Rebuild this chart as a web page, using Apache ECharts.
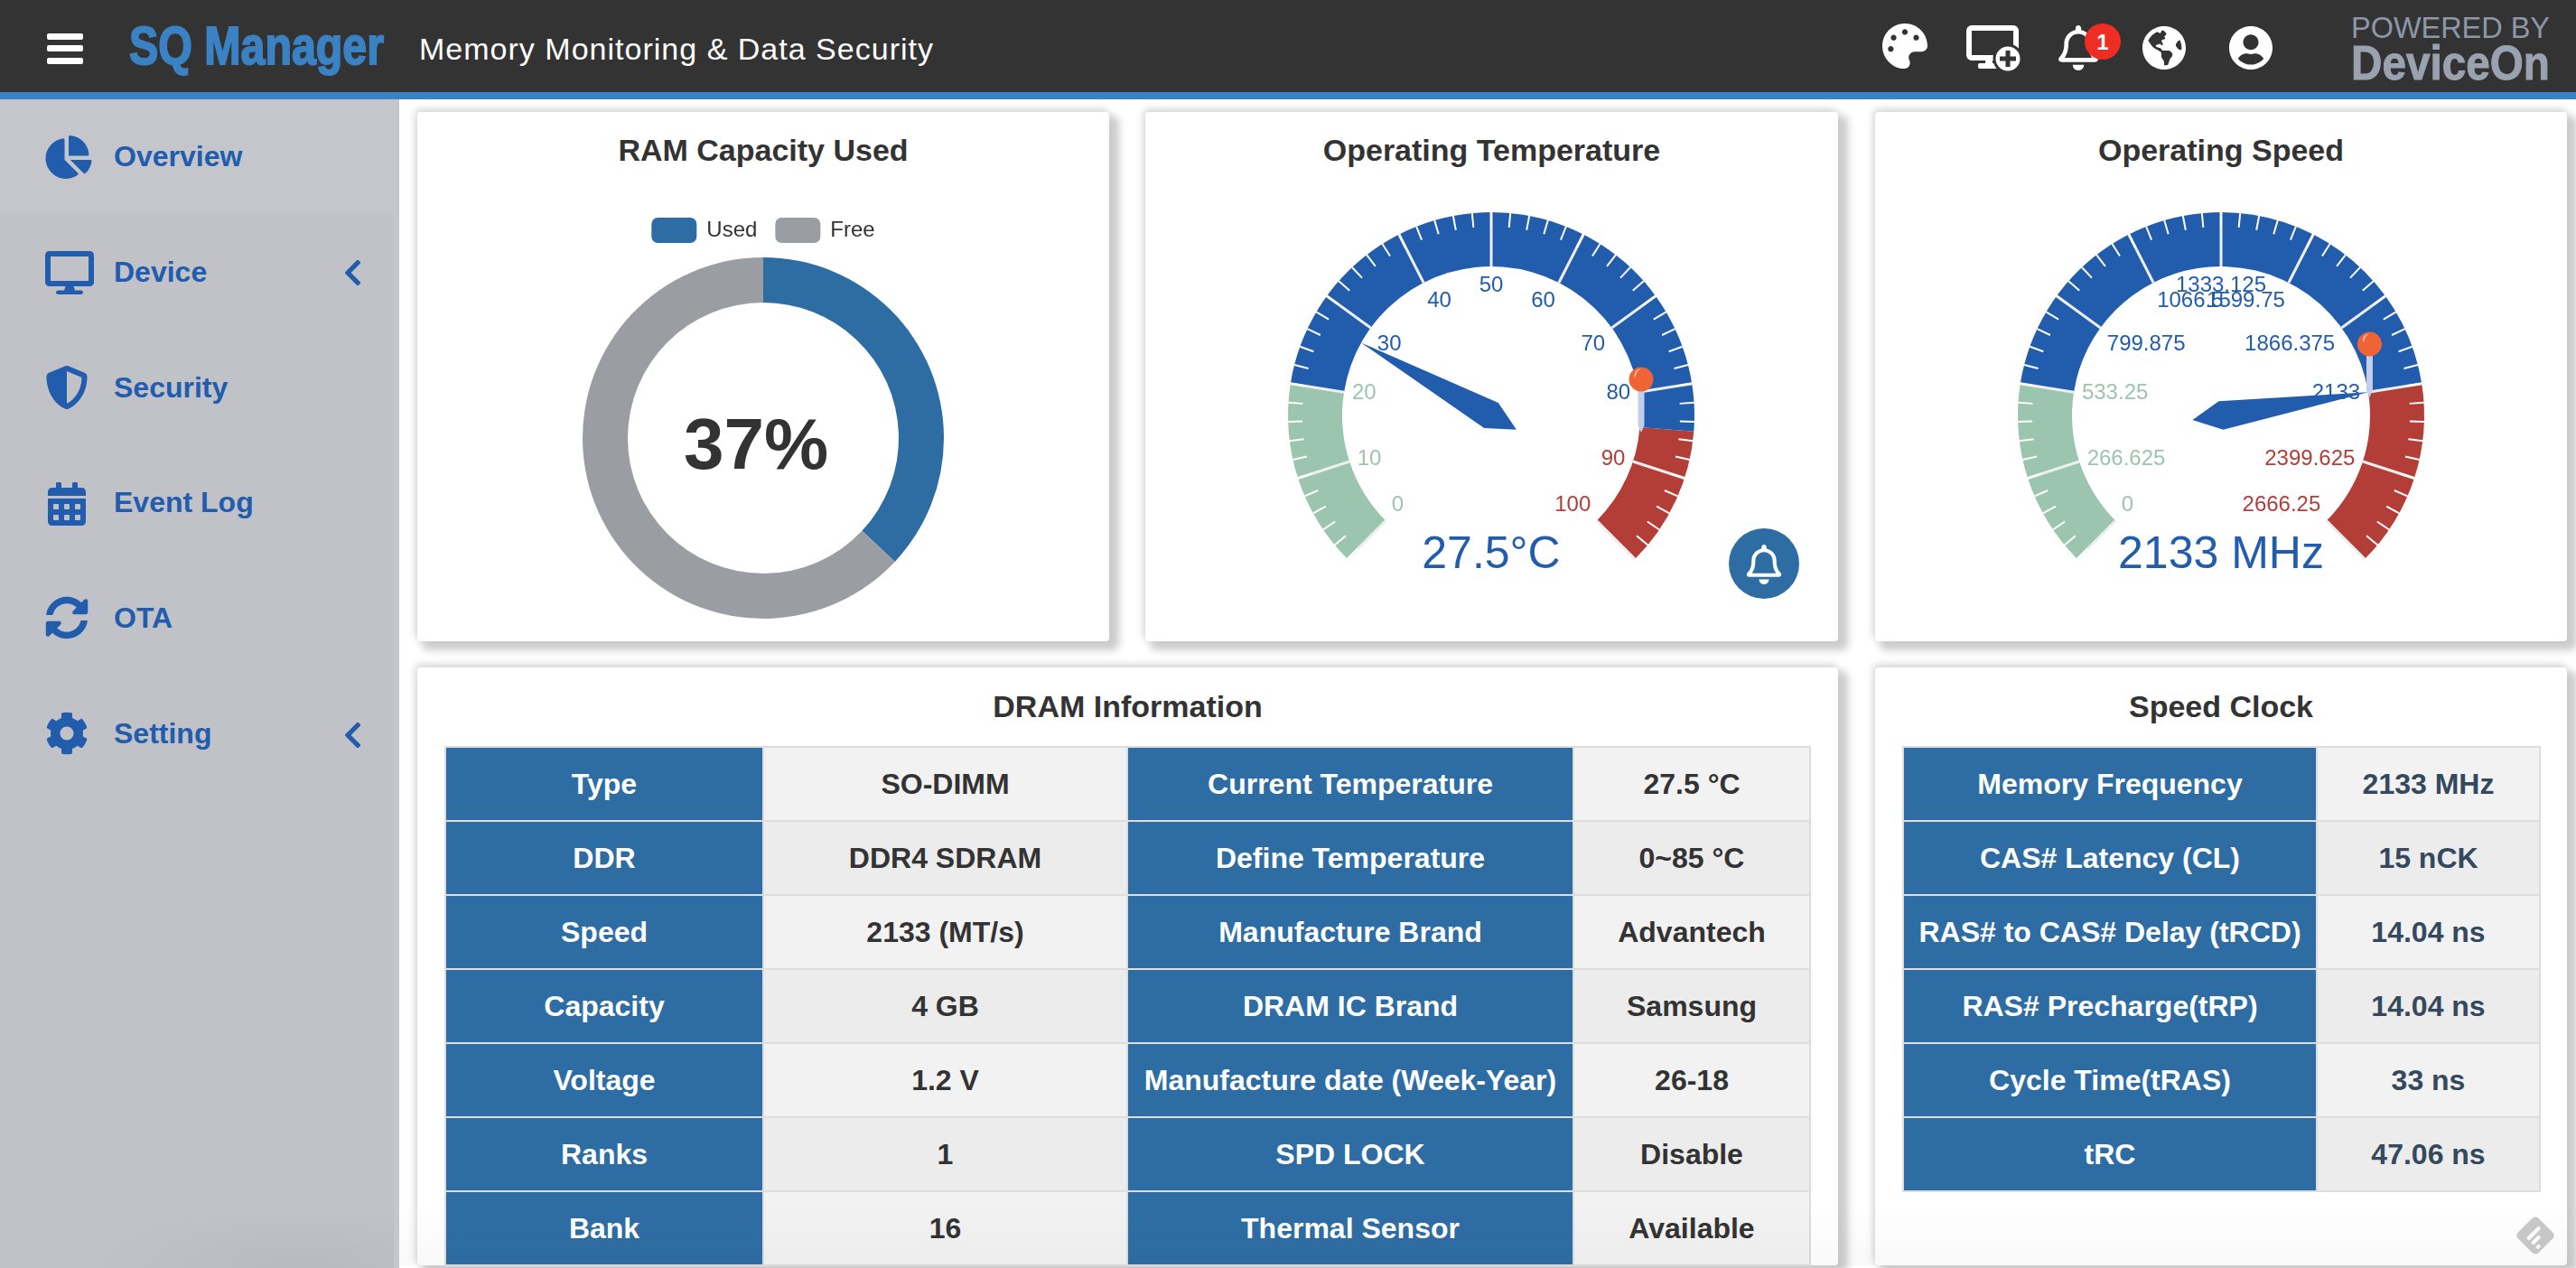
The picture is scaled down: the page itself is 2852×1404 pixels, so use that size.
<!DOCTYPE html>
<html>
<head>
<meta charset="utf-8">
<title>SQ Manager</title>
<script src="https://cdn.jsdelivr.net/npm/echarts@6/dist/echarts.min.js"></script>
<style>
  html, body { margin: 0; padding: 0; width: 2852px; height: 1404px; overflow: hidden; background: #fff; font-family: "Liberation Sans", Arial, sans-serif; }
  .abs { position: absolute; }
  #header { left: 0; top: 0; width: 2852px; height: 102px; background: #333; }
  #strip { left: 0; top: 102px; width: 2852px; height: 8px; background: #3a82c4; }
  #side { left: 0; top: 110px; width: 442px; height: 1294px; background: #c5c6cc; }
  #sideRest { left: 0; top: 238px; width: 436px; height: 1166px; background: #c1c2c8; }
  #sideShade { left: 0; top: 1320px; width: 436px; height: 84px; background: radial-gradient(ellipse 240px 70px at 330px 84px, rgba(0,0,0,.045), rgba(0,0,0,0)); }
  .navText { left: 126px; font-size: 32px; font-weight: bold; color: #225cad; line-height: 40px; }
  .icon { fill: #225cad; }
  .card { background: #fff; border-radius: 4px; box-shadow: 8px 7px 8px 3px #ccc, -2px -3px 8px #d4d4d4; }
  .cardTitle { left: 0; width: 100%; text-align: center; font-size: 34px; font-weight: bold; color: #333; line-height: 40px; }
  table { position: absolute; border-collapse: collapse; table-layout: fixed; }
  td { border: 2px solid #ddd; height: 80px; padding: 0; text-align: center; font-size: 32px; font-weight: bold; color: #333; background: #f2f2f2; white-space: nowrap; }
  tr:nth-child(even) td { background: #ececec; }
  td.key, tr:nth-child(even) td.key { background: #2e6da4; color: #fff; }
  #clockTable td { color: #34495e; }
  #clockTable td.key { color: #fff; }
  #fade { left: 442px; top: 1330px; width: 2410px; height: 71px; background: linear-gradient(rgba(0,0,0,0), rgba(0,0,0,.025)); pointer-events: none; }
</style>
</head>
<body>
<div class="abs" id="header"></div>
<div class="abs" id="strip"></div>
<div class="abs" id="side"></div>
<div class="abs" id="sideRest"></div>
<div class="abs" id="sideShade"></div>

<svg class="abs" style="left:0;top:0" width="2852" height="102">
  <g fill="#fff">
    <rect x="52" y="37" width="40" height="7" rx="2"/>
    <rect x="52" y="50" width="40" height="7" rx="2"/>
    <rect x="52" y="64" width="40" height="7" rx="2"/>
  </g>
  <text x="143" y="71" font-family="Liberation Sans" font-size="60" font-weight="bold" fill="#3a82c4" stroke="#3a82c4" stroke-width="2" textLength="282" lengthAdjust="spacingAndGlyphs">SQ Manager</text>
  <text x="464" y="66" font-family="Liberation Sans" font-size="34" fill="#fff" textLength="569" lengthAdjust="spacing">Memory Monitoring &amp; Data Security</text>
  <text x="2603" y="42" font-family="Liberation Sans" font-size="33" fill="#8d97a8" textLength="220" lengthAdjust="spacingAndGlyphs">POWERED BY</text>
  <text x="2603" y="88" font-family="Liberation Sans" font-size="53" font-weight="bold" fill="#9aa2b0" stroke="#9aa2b0" stroke-width="1" textLength="220" lengthAdjust="spacingAndGlyphs">DeviceOn</text>

  <g fill="#fff">
    <svg x="2084" y="26" width="50" height="50" viewBox="0 0 512 512"><path d="M204.3 5C104.9 24.4 24.8 104.3 5.2 203.4c-37 187 131.7 326.4 258.8 306.7 41.2-6.4 61.4-54.6 42.5-91.7-23.1-45.4 9.9-98.4 60.9-98.4h79.7c35.8 0 64.8-29.6 64.9-65.3C511.5 97.1 368.1-26.9 204.3 5zM96 320c-17.7 0-32-14.3-32-32s14.3-32 32-32 32 14.3 32 32-14.3 32-32 32zm32-128c-17.7 0-32-14.3-32-32s14.3-32 32-32 32 14.3 32 32-14.3 32-32 32zm128-64c-17.7 0-32-14.3-32-32s14.3-32 32-32 32 14.3 32 32-14.3 32-32 32zm128 64c-17.7 0-32-14.3-32-32s14.3-32 32-32 32 14.3 32 32-14.3 32-32 32z"/></svg>
    <rect x="2180" y="31" width="52" height="33" rx="3" fill="none" stroke="#fff" stroke-width="6"/>
    <rect x="2190" y="70" width="24" height="6" rx="2"/>
    <rect x="2198" y="62" width="8" height="10"/>
    <circle cx="2223" cy="65" r="15" stroke="#333" stroke-width="3"/>
    <rect x="2214" y="62.500" width="18" height="5" fill="#333"/>
    <rect x="2220.500" y="56" width="5" height="18" fill="#333"/>
    <svg x="2279" y="28" width="44" height="50" viewBox="0 0 448 512"><path d="M439.39 362.29c-19.32-20.76-55.47-51.99-55.47-154.29 0-77.7-54.48-139.9-127.94-155.16V32c0-17.67-14.32-32-31.98-32s-31.98 14.33-31.98 32v20.84C118.56 68.1 64.08 130.3 64.08 208c0 102.3-36.15 133.53-55.47 154.29-6 6.45-8.66 14.16-8.61 21.71.11 16.4 12.98 32 32.1 32h383.8c19.12 0 32-15.6 32.1-32 .05-7.55-2.61-15.27-8.61-21.71zM67.53 368c21.22-27.97 44.42-74.33 44.53-159.42 0-.2-.06-.38-.06-.58 0-61.86 50.14-112 112-112s112 50.14 112 112c0 .2-.06.38-.06.58.11 85.1 23.31 131.46 44.53 159.42H67.53zM224 512c35.32 0 63.97-28.65 63.97-64H160.03c0 35.35 28.65 64 63.97 64z"/></svg>
    <circle cx="2328" cy="46" r="20" fill="#ee2e24"/>
    <text x="2328" y="55" text-anchor="middle" font-family="Liberation Sans" font-size="24" font-weight="bold">1</text>
    <svg x="2372" y="29" width="48" height="48" viewBox="0 8 496 496"><path d="M248 8C111.03 8 0 119.03 0 256s111.03 248 248 248 248-111.03 248-248S384.97 8 248 8zm82.29 357.6c-3.9 3.88-7.99 7.95-11.31 11.28-2.99 3-5.1 6.7-6.17 10.71-1.51 5.66-2.73 11.38-4.77 16.87l-17.39 46.85c-13.76 3-28 4.69-42.65 4.69v-27.38c1.69-12.62-7.64-36.26-22.63-51.25-6-6-9.37-14.14-9.37-22.63v-32.01c0-11.64-6.27-22.34-16.46-27.97-14.37-7.95-34.81-19.06-48.81-26.11-11.48-5.78-22.1-13.14-31.65-21.75l-.8-.72a114.792 114.792 0 0 1-18.06-20.74c-9.38-13.77-24.66-36.42-34.59-51.14 20.47-45.5 57.36-82.04 103.2-101.89l24.01 12.01C203.48 89.74 216 82.01 216 70.11v-11.3c7.99-1.29 16.12-2.11 24.39-2.42l28.3 28.3c6.25 6.25 6.25 16.38 0 22.63L264 112l-10.34 10.34c-3.12 3.12-3.12 8.19 0 11.31l4.69 4.69c3.12 3.12 3.12 8.19 0 11.31l-8 8a8.008 8.008 0 0 1-5.66 2.34h-8.99c-2.08 0-4.08.81-5.58 2.27l-9.92 9.65a8.008 8.008 0 0 0-1.58 9.31l15.59 31.19c2.66 5.32-1.21 11.58-7.15 11.58h-5.64c-1.93 0-3.79-.7-5.24-1.96l-9.28-8.06a16.017 16.017 0 0 0-15.55-3.1l-31.17 10.39a11.95 11.95 0 0 0-8.17 11.34c0 4.53 2.56 8.66 6.61 10.69l11.08 5.54c9.41 4.71 19.79 7.16 30.31 7.16s22.59 27.29 32 32h66.75c8.49 0 16.62 3.37 22.63 9.37l13.69 13.69a30.503 30.503 0 0 1 8.93 21.57 46.536 46.536 0 0 1-13.72 32.98zM417 274.25c-5.79-1.45-10.84-5-14.15-9.97l-17.98-26.97a23.97 23.97 0 0 1 0-26.62l19.59-29.38c2.32-3.47 5.5-6.29 9.24-8.15l12.98-6.49C440.2 193.59 448 223.87 448 256c0 8.67-.74 17.16-1.82 25.54L417 274.25z"/></svg>
    <svg x="2468" y="29" width="48" height="48" viewBox="0 8 496 496"><path d="M248 8C111 8 0 119 0 256s111 248 248 248 248-111 248-248S385 8 248 8zm0 96c48.6 0 88 39.4 88 88s-39.4 88-88 88-88-39.4-88-88 39.4-88 88-88zm0 344c-58.7 0-111.3-26.6-146.5-68.2 18.8-35.4 55.6-59.8 98.5-59.8 2.4 0 4.8.4 7.1 1.1 13 4.2 26.6 6.9 40.9 6.9 14.3 0 28-2.7 40.9-6.9 2.3-.7 4.7-1.1 7.1-1.1 42.9 0 79.7 24.4 98.5 59.8C359.3 421.4 306.7 448 248 448z"/></svg>
  </g>
</svg>

<svg class="abs" style="left:0;top:110px" width="442" height="760">
  <g class="icon">
    <svg x="50" y="40" width="52" height="48" viewBox="0 0 544 512"><path d="M527.79 288H290.5l158.03 158.03c6.04 6.04 15.98 6.53 22.19 .68 38.7-36.46 65.32-85.61 73.13-140.86 1.34-9.46-6.51-17.85-16.06-17.85zm-15.83-64.8C503.72 103.74 408.26 8.28 288.8 .04 279.68-.59 272 7.1 272 16.24V240h223.77c9.14 0 16.82-7.68 16.19-16.8zM224 288V50.71c0-9.55-8.39-17.4-17.84-16.06C86.99 51.49-4.1 155.6 .14 280.37 4.5 408.51 114.83 513.59 243.03 511.98c50.4-.63 96.97-16.87 135.26-44.03 7.9-5.6 8.42-17.23 1.57-24.08L224 288z"/></svg>
    <svg x="50" y="168" width="54" height="48" viewBox="0 0 576 512"><path d="M528 0H48C21.5 0 0 21.5 0 48v320c0 26.5 21.5 48 48 48h192l-16 48h-72c-13.3 0-24 10.7-24 24s10.7 24 24 24h272c13.300 0 24-10.7 24-24s-10.7-24-24-24h-72l-16-48h192c26.5 0 48-21.5 48-48V48c0-26.5-21.5-48-48-48zm-16 352H64V64h448v288z"/></svg>
    <svg x="51" y="295" width="46" height="48" viewBox="16 0 480 512"><path d="M466.5 83.7l-192-80a48.15 48.15 0 0 0-36.9 0l-192 80C27.7 91.1 16 108.6 16 128c0 198.5 114.5 335.7 221.5 380.3 11.8 4.9 25.1 4.9 36.9 0C360.1 472.6 496 349.3 496 128c0-19.4-11.700-36.9-29.500-44.300zM256.100 446.300l-.1-381 175.900 73.300c-3.300 151.400-82.100 261.100-175.800 307.700z"/></svg>
    <svg x="53" y="424" width="42" height="48" viewBox="0 0 448 512"><path d="M0 464c0 26.5 21.5 48 48 48h352c26.5 0 48-21.5 48-48V192H0v272zm320-196c0-6.6 5.4-12 12-12h40c6.6 0 12 5.4 12 12v40c0 6.6-5.4 12-12 12h-40c-6.6 0-12-5.4-12-12v-40zm0 128c0-6.6 5.4-12 12-12h40c6.6 0 12 5.4 12 12v40c0 6.6-5.4 12-12 12h-40c-6.6 0-12-5.4-12-12v-40zM192 268c0-6.6 5.4-12 12-12h40c6.6 0 12 5.4 12 12v40c0 6.6-5.4 12-12 12h-40c-6.6 0-12-5.4-12-12v-40zm0 128c0-6.6 5.4-12 12-12h40c6.6 0 12 5.4 12 12v40c0 6.6-5.4 12-12 12h-40c-6.6 0-12-5.4-12-12v-40zM64 268c0-6.6 5.4-12 12-12h40c6.6 0 12 5.4 12 12v40c0 6.6-5.4 12-12 12H76c-6.6 0-12-5.4-12-12v-40zm0 128c0-6.6 5.4-12 12-12h40c6.6 0 12 5.4 12 12v40c0 6.6-5.4 12-12 12H76c-6.6 0-12-5.4-12-12v-40zM400 64h-48V16c0-8.8-7.2-16-16-16h-32c-8.8 0-16 7.2-16 16v48H160V16c0-8.8-7.2-16-16-16h-32c-8.8 0-16 7.2-16 16v48H48C21.5 64 0 85.5 0 112v48h448v-48c0-26.5-21.5-48-48-48z"/></svg>
    <svg x="50" y="550" width="48" height="48" viewBox="0 0 512 512"><path d="M370.72 133.28C339.458 104.008 298.888 87.962 255.848 88c-77.458.068-144.328 53.178-162.791 126.85-1.344 5.363-6.122 9.15-11.651 9.15H24.103c-7.498 0-13.194-6.807-11.807-14.176C33.933 94.924 134.813 8 256 8c66.448 0 126.791 26.136 171.315 68.685L463.03 40.97C478.149 25.851 504 36.559 504 57.941V192c0 13.255-10.745 24-24 24H345.941c-21.382 0-32.09-25.851-16.971-40.971l41.75-41.749zM32 296h134.059c21.382 0 32.09 25.851 16.971 40.971l-41.75 41.75c31.262 29.273 71.835 45.319 114.876 45.28 77.418-.07 144.315-53.144 162.787-126.849 1.344-5.363 6.122-9.15 11.651-9.15h57.304c7.498 0 13.194 6.807 11.807 14.176C478.067 417.076 377.187 504 256 504c-66.448 0-126.791-26.136-171.315-68.685L48.97 471.03C33.851 486.149 8 475.441 8 454.059V320c0-13.255 10.745-24 24-24z"/></svg>
    <svg x="51" y="678" width="46" height="48" viewBox="16 0 480 512"><path d="M487.4 315.7l-42.6-24.6c4.3-23.2 4.3-47 0-70.2l42.6-24.6c4.9-2.8 7.1-8.6 5.5-14-11.1-35.6-30-67.8-54.7-94.6-3.8-4.1-10-5.1-14.8-2.3L380.8 110c-17.9-15.4-38.5-27.3-60.8-35.1V25.8c0-5.6-3.9-10.5-9.4-11.7-36.7-8.2-74.3-7.8-109.2 0-5.5 1.2-9.4 6.1-9.4 11.7V75c-22.2 7.9-42.8 19.8-60.8 35.1L88.7 85.5c-4.9-2.8-11-1.9-14.8 2.3-24.7 26.7-43.6 58.9-54.7 94.6-1.7 5.4.6 11.2 5.5 14L67.3 221c-4.3 23.2-4.3 47 0 70.2l-42.6 24.6c-4.9 2.8-7.1 8.6-5.5 14 11.1 35.6 30 67.8 54.7 94.6 3.8 4.1 10 5.1 14.8 2.3l42.6-24.6c17.9 15.4 38.5 27.3 60.8 35.1v49.2c0 5.6 3.9 10.5 9.4 11.7 36.7 8.2 74.3 7.8 109.2 0 5.5-1.2 9.4-6.1 9.4-11.7v-49.2c22.2-7.9 42.8-19.8 60.8-35.1l42.6 24.6c4.9 2.8 11 1.9 14.8-2.3 24.7-26.7 43.6-58.9 54.7-94.6 1.500-5.500-.7-11.300-5.600-14.100zM256 336c-44.100 0-80-35.900-80-80s35.900-80 80-80 80 35.900 80 80-35.900 80-80 80z"/></svg>
    <svg x="381" y="178" width="19" height="28" viewBox="30 40 260 432"><path d="M34.52 239.03L228.87 44.69c9.37-9.37 24.57-9.37 33.94 0l22.67 22.67c9.36 9.36 9.37 24.52.04 33.9L131.49 256l154.02 154.75c9.34 9.38 9.32 24.54-.04 33.9l-22.67 22.67c-9.37 9.37-24.57 9.37-33.94 0L34.52 272.97c-9.37-9.37-9.37-24.57 0-33.94z"/></svg>
    <svg x="381" y="690" width="19" height="28" viewBox="30 40 260 432"><path d="M34.52 239.03L228.87 44.69c9.37-9.37 24.57-9.37 33.94 0l22.67 22.67c9.36 9.36 9.37 24.52.04 33.9L131.49 256l154.02 154.75c9.34 9.38 9.32 24.54-.04 33.9l-22.67 22.67c-9.37 9.37-24.57 9.37-33.94 0L34.52 272.97c-9.37-9.37-9.37-24.57 0-33.94z"/></svg>
  </g>
</svg>
<div id="nav"></div>

<div class="abs card" style="left:462px;top:124px;width:766px;height:586px"><div class="abs cardTitle" style="top:22px">RAM Capacity Used</div><div class="abs" id="ramChart" style="left:0;top:0;width:766px;height:586px"></div></div>
<div class="abs card" style="left:1268px;top:124px;width:767px;height:586px"><div class="abs cardTitle" style="top:22px">Operating Temperature</div><div class="abs" id="tempChart" style="left:0;top:0;width:767px;height:586px"></div></div>
<div class="abs card" style="left:2076px;top:124px;width:766px;height:586px"><div class="abs cardTitle" style="top:22px">Operating Speed</div><div class="abs" id="speedChart" style="left:0;top:0;width:766px;height:586px"></div></div>
<div class="abs card" style="left:462px;top:739px;width:1573px;height:662px"><div class="abs cardTitle" style="top:23px">DRAM Information</div></div>
<div class="abs card" style="left:2076px;top:739px;width:766px;height:662px"><div class="abs cardTitle" style="top:23px">Speed Clock</div></div>

<table id="dramTable" style="left:492px;top:826px;width:1511px"><colgroup><col style="width:352px"><col style="width:403px"><col style="width:494px"><col style="width:262px"></colgroup></table>
<table id="clockTable" style="left:2106px;top:826px;width:705px"><colgroup><col style="width:458px"><col style="width:247px"></colgroup></table>

<svg class="abs" style="left:1914px;top:585px" width="78" height="78" viewBox="0 0 78 78">
  <circle cx="39" cy="39" r="39" fill="#2e6da4"/>
  <svg x="19" y="18" width="40" height="44" viewBox="0 0 448 512"><path fill="#fff" d="M439.39 362.29c-19.32-20.76-55.47-51.99-55.47-154.29 0-77.7-54.48-139.9-127.94-155.16V32c0-17.67-14.32-32-31.98-32s-31.98 14.33-31.98 32v20.84C118.56 68.1 64.08 130.3 64.08 208c0 102.3-36.15 133.53-55.47 154.29-6 6.45-8.66 14.16-8.61 21.71.11 16.4 12.98 32 32.1 32h383.8c19.12 0 32-15.6 32.1-32 .05-7.55-2.61-15.27-8.61-21.71zM67.53 368c21.22-27.97 44.42-74.33 44.53-159.42 0-.2-.06-.38-.06-.58 0-61.86 50.14-112 112-112s112 50.14 112 112c0 .2-.06.38-.06.58.11 85.1 23.31 131.46 44.53 159.42H67.53zM224 512c35.32 0 63.97-28.65 63.97-64H160.03c0 35.35 28.65 64 63.97 64z"/></svg>
</svg>

<svg class="abs" style="left:2783px;top:1344px" width="48" height="48" viewBox="0 0 48 48">
  <rect x="8" y="8" width="32" height="32" rx="5" fill="#c9c9c9" transform="rotate(45 24 24)"/>
  <g fill="#fff" transform="rotate(-45 24 24)"><rect x="15" y="19" width="19" height="4" rx="1"/><rect x="15" y="26" width="12" height="4" rx="1"/><rect x="15" y="33" width="5" height="4" rx="1"/></g>
</svg>
<div class="abs" id="fade"></div>

<script>
const navItems = ['Overview', 'Device', 'Security', 'Event Log', 'OTA', 'Setting'];

const ramNames = ['Used', 'Free'];
const ramValues = [37, 63];

const tempValue = 27.5;
const tempMax = 100;
const tempDefine = 85;

const speedValue = 2133;
const speedMax = 2666.25;

const dramKeysA = ['Type', 'DDR', 'Speed', 'Capacity', 'Voltage', 'Ranks', 'Bank'];
const dramValsA = ['SO-DIMM', 'DDR4 SDRAM', '2133 (MT/s)', '4 GB', '1.2 V', '1', '16'];
const dramKeysB = ['Current Temperature', 'Define Temperature', 'Manufacture Brand', 'DRAM IC Brand', 'Manufacture date (Week-Year)', 'SPD LOCK', 'Thermal Sensor'];
const dramValsB = ['27.5 °C', '0~85 °C', 'Advantech', 'Samsung', '26-18', 'Disable', 'Available'];

const clockKeys = ['Memory Frequency', 'CAS# Latency (CL)', 'RAS# to CAS# Delay (tRCD)', 'RAS# Precharge(tRP)', 'Cycle Time(tRAS)', 'tRC'];
const clockVals = ['2133 MHz', '15 nCK', '14.04 ns', '14.04 ns', '33 ns', '47.06 ns'];

const GREEN = '#9cc5af', BLUE = '#225cad', RED = '#b33e38';
const FONT = '"Liberation Sans", Arial, sans-serif';

// sidebar labels
navItems.forEach((name, i) => {
    const d = document.createElement('div');
    d.className = 'abs navText';
    d.style.top = (173 + i * 127.8 - 20) + 'px';
    d.textContent = name;
    document.getElementById('nav').appendChild(d);
});

// tables
const fillTable = (id, cols) => {
    const table = document.getElementById(id);
    const body = document.createElement('tbody');
    cols[0].forEach((_, r) => {
        const tr = document.createElement('tr');
        cols.forEach((col, c) => {
            const td = document.createElement('td');
            if (c % 2 === 0) td.className = 'key';
            td.textContent = col[r];
            tr.appendChild(td);
        });
        body.appendChild(tr);
    });
    table.appendChild(body);
};
fillTable('dramTable', [dramKeysA, dramValsA, dramKeysB, dramValsB]);
fillTable('clockTable', [clockKeys, clockVals]);

// donut
const ramChart = echarts.init(document.getElementById('ramChart'));
ramChart.setOption({
    animation: false,
    color: ['#2e6da4', '#9a9da1'],
    title: {
        text: ramValues[0] + '%',
        left: 370,
        top: 368,
        textAlign: 'center',
        textVerticalAlign: 'middle',
        textStyle: { fontFamily: FONT, fontSize: 80, fontWeight: 'bold', color: '#333' }
    },
    legend: {
        top: 112,
        left: 'center',
        itemWidth: 50,
        itemHeight: 28,
        itemGap: 20,
        icon: 'roundRect',
        data: ramNames,
        textStyle: { fontFamily: FONT, fontSize: 24, color: '#333', padding: [0, 0, 0, 6] }
    },
    series: [{
        type: 'pie',
        center: [383, 361],
        radius: [150, 200],
        startAngle: 90,
        silent: true,
        label: { show: false },
        labelLine: { show: false },
        data: ramNames.map((name, i) => ({ name, value: ramValues[i] }))
    }]
});

// pin on the gauge, kept upright, sits on a hidden polar system with the gauge's scale
const pinSeries = (value) => {
    const common = { type: 'scatter', coordinateSystem: 'polar', silent: true, z: 10, data: [[0.74, value]] };
    return [
        { ...common, symbol: 'path://M0,0 L7,0 L7,44 L3.5,52 L0,44 Z', symbolSize: [7, 52], symbolOffset: [0, -20], itemStyle: { color: '#c4cdeb', opacity: 1 } },
        { ...common, symbol: 'circle', symbolSize: 27, symbolOffset: [0, -53], itemStyle: { color: '#ee6436', opacity: 1 } },
        { ...common, symbol: 'path://M0,10 C0,4 4,0 10,0 C6,2 3,5 2,11 C1.5,12 0,12 0,10 Z', symbolSize: [7, 9], symbolOffset: [-4, -60], itemStyle: { color: 'rgba(255,255,255,.55)', opacity: 1 } }
    ];
};

// labels at 30/70 and at both ends sit a little off the library's default spot
const gaugeLabel = (max) => (v) => {
    const i = Math.round(v / max * 10);
    if (i === 0 || i === 10) return '{up|' + v + '}';
    if (i === 3 || i === 7) return '{down|' + v + '}';
    return '' + v;
};

const gaugeOption = (value, max, stops, unit, pinValue) => ({
    animation: false,
    polar: { center: [383, 336], radius: 225 },
    radiusAxis: { show: false, min: 0, max: 1, axisLine: { show: false }, axisTick: { show: false }, axisLabel: { show: false }, splitLine: { show: false } },
    angleAxis: { show: false, startAngle: 225, min: 0, max: max * 4 / 3, axisLine: { show: false }, axisTick: { show: false }, axisLabel: { show: false }, splitLine: { show: false } },
    series: [{
        type: 'gauge',
        center: [383, 336],
        radius: 225,
        startAngle: 225,
        endAngle: -45,
        min: 0,
        max: max,
        splitNumber: 10,
        silent: true,
        axisLine: { lineStyle: { width: 60, color: stops } },
        splitLine: { distance: -60, length: 60, lineStyle: { color: '#eee', width: 3 } },
        axisTick: { distance: -60, length: 16, splitNumber: 5, lineStyle: { color: '#fff', width: 2 } },
        axisLabel: {
            distance: 69,
            color: 'auto',
            fontFamily: FONT,
            fontSize: 24,
            formatter: gaugeLabel(max),
            rich: {
                up: { fontFamily: FONT, fontSize: 24, padding: [0, 0, 22, 0] },
                down: { fontFamily: FONT, fontSize: 24, padding: [26, 0, 0, 0] }
            }
        },
        pointer: { width: 16, length: 165, itemStyle: { color: BLUE } },
        itemStyle: { color: BLUE },
        anchor: { show: false },
        title: { show: false },
        detail: {
            valueAnimation: false,
            offsetCenter: [0, 155],
            formatter: '{value}' + unit,
            color: BLUE,
            fontFamily: FONT,
            fontSize: 50,
            fontWeight: 'normal'
        },
        data: [{ value: value }]
    }].concat(pinSeries(pinValue))
});

const tempChart = echarts.init(document.getElementById('tempChart'));
tempChart.setOption(gaugeOption(tempValue, tempMax, [[0.2, GREEN], [tempDefine / tempMax, BLUE], [1, RED]], '°C', tempDefine));

const speedChart = echarts.init(document.getElementById('speedChart'));
speedChart.setOption(gaugeOption(speedValue, speedMax, [[0.2, GREEN], [speedValue / speedMax, BLUE], [1, RED]], ' MHz', speedValue));
</script>
</body>
</html>
